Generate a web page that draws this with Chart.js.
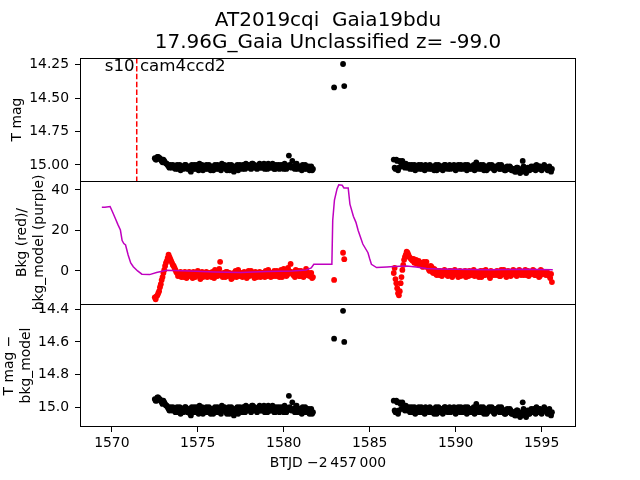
<!DOCTYPE html>
<html><head><meta charset="utf-8">
<script src="https://cdn.jsdelivr.net/npm/chart.js@4"></script>
<style>html,body{margin:0;padding:0;background:#fff}</style>
</head><body>
<canvas id="c" width="640" height="480"></canvas>
<script>
// ---------- text ----------
const titleLines = ['AT2019cqi  Gaia19bdu', '17.96G_Gaia Unclassified z= -99.0'];
const ccdLabel = 's10 cam4ccd2';
const xLabel = 'BTJD \u22122\u2009457\u2009000';
const yTopLabel = 'T mag';
const yMidLabel = ['Bkg (red)/', 'bkg_model (purple)'];
const yBotLabel = ['T mag \u2212', 'bkg_model'];

// ---------- axes ----------
const xRange = [1568.15, 1597.0];
const xTicks = [1570, 1575, 1580, 1585, 1590, 1595];
const yTopRange = [14.20, 15.12];
const yTopTicks = [14.25, 14.50, 14.75, 15.00];
const yMidRange = [-16.3, 44.4];
const yMidTicks = [0, 20, 40];
const yBotRange = [14.368, 15.121];
const yBotTicks = [14.4, 14.6, 14.8, 15.0];

// ---------- data ----------
const vlineX = 1571.45;

// orbit 1, cadence a
const time1 = [1572.5,1572.6,1572.7,1572.8,1572.9,1573.0,1573.1,1573.2,1573.3,1573.4,
1573.5,1573.6,1573.7,1573.8,1573.9,1574.0,1574.1,1574.2,1574.3,1574.4,
1574.5,1574.6,1574.7,1574.8,1574.9,1575.0,1575.1,1575.2,1575.3,1575.4,
1575.5,1575.6,1575.7,1575.8,1575.9,1576.0,1576.1,1576.2,1576.3,1576.4,
1576.5,1576.6,1576.7,1576.8,1576.9,1577.0,1577.1,1577.2,1577.3,1577.4,
1577.5,1577.6,1577.7,1577.8,1577.9,1578.0,1578.1,1578.2,1578.3,1578.4,
1578.5,1578.6,1578.7,1578.8,1578.9,1579.0,1579.1,1579.2,1579.3,1579.4,
1579.5,1579.6,1579.7,1579.8,1579.9,1580.0,1580.1,1580.2,1580.3,1580.4,
1580.5,1580.6,1580.7,1580.8,1580.9,1581.0,1581.1,1581.2,1581.3,1581.4,
1581.5,1581.6,1581.7];
const mag1 = [14.95,14.96,14.94,14.95,14.97,14.96,14.98,14.99,15.01,15.00,
15.02,15.01,15.03,15.00,15.02,15.04,15.01,15.02,15.00,15.03,
15.02,15.05,15.01,15.00,15.03,15.02,14.99,15.02,15.04,15.01,
15.00,15.03,15.02,15.01,15.04,15.00,15.02,15.03,15.01,14.99,
15.02,15.01,15.04,15.00,15.03,15.02,15.05,15.01,15.00,15.02,
15.01,15.03,15.00,14.99,15.02,15.01,15.03,14.99,15.00,15.02,
15.01,14.99,15.02,15.00,15.03,15.01,14.99,15.02,15.01,15.00,
15.03,15.01,15.00,15.02,15.01,15.03,15.00,15.02,14.93,15.01,
14.97,15.02,15.00,15.03,15.01,15.02,15.00,15.03,15.01,15.02,
15.04,15.01,15.03];
const bkg1 = [-13,-12.5,-11,-8,-4.5,-1,2.5,5,8,6,
4,2.5,0.5,-1,-2,-0.5,-1.5,-3,-1,-2.5,
-0.5,-2,-3.5,-1,-2,0,-2.5,-1,-3,-1.5,
-0.5,-2.5,-1,-3,-1.5,0.5,-2,-1,4.5,-2,
-1,-3,-0.5,-2,-1.5,-3.5,-1,0,-2,-2.5,
-1,-3,-0.5,-2,-1.5,-2.5,0,-1.5,-3.5,-1,
-2,-0.5,-2.5,-1,-3,-1.5,0.5,-2,-1,-2.5,
-1,0,-2,-1.5,-3,1,-1,-2,0,3.5,
-1,-2,0.5,-1.5,-2.5,0,-1,-2,1,-1.5,
-2.5,-1,-3];

// orbit 1, cadence b
const time1b = [1572.55,1572.65,1572.75,1572.85,1572.95,1573.05,1573.15,1573.25,1573.35,1573.45,
1573.55,1573.65,1573.75,1573.85,1573.95,1574.05,1574.15,1574.25,1574.35,1574.45,
1574.55,1574.65,1574.75,1574.85,1574.95,1575.05,1575.15,1575.25,1575.35,1575.45,
1575.55,1575.65,1575.75,1575.85,1575.95,1576.05,1576.15,1576.25,1576.35,1576.45,
1576.55,1576.65,1576.75,1576.85,1576.95,1577.05,1577.15,1577.25,1577.35,1577.45,
1577.55,1577.65,1577.75,1577.85,1577.95,1578.05,1578.15,1578.25,1578.35,1578.45,
1578.55,1578.65,1578.75,1578.85,1578.95,1579.05,1579.15,1579.25,1579.35,1579.45,
1579.55,1579.65,1579.75,1579.85,1579.95,1580.05,1580.15,1580.25,1580.35,1580.45,
1580.55,1580.65,1580.75,1580.85,1580.95,1581.05,1581.15,1581.25,1581.35,1581.45,
1581.55,1581.65];
const mag1b = [14.96,14.94,14.95,14.96,14.98,14.97,14.99,15.00,15.02,15.01,
15.00,15.02,15.01,15.03,15.00,15.02,15.03,15.00,15.02,15.01,
15.04,15.00,15.03,15.02,15.00,15.04,15.01,15.00,15.02,15.03,
15.02,15.00,15.04,15.02,15.01,15.03,15.00,15.02,15.04,15.01,
15.00,15.03,15.01,15.04,15.00,15.01,15.03,15.02,15.04,15.00,
15.02,15.00,15.03,15.01,15.00,15.02,14.99,15.02,15.01,15.03,
15.00,15.02,15.01,14.99,15.01,15.03,15.00,15.02,14.99,15.03,
15.00,15.02,15.03,15.00,15.02,14.99,15.03,15.01,15.00,15.02,
15.01,15.03,14.99,15.01,15.02,15.04,15.01,15.00,15.03,15.01,
15.02,15.04];
const bkg1b = [-14,-12,-10,-6.5,-3,0.5,4,6.5,7,5,
3,1.5,-0.5,-2.5,-1,-3,-2,-0.5,-3.5,-1.5,
-2.5,-1,-0.5,-3,-1.5,-2,-4,-0.5,-2,-1,
-3,-1.5,-2,-0.5,-3.5,-1,-2.5,1,-1.5,-3,
-2,-0.5,-2.5,-1,-4,-1.5,-2,-3,0.5,-1.5,
-2.5,-1,-2,-3.5,0,-2,-1,-2.5,-0.5,-3,
-1.5,-3,-1,-2,0,-2.5,-1.5,-3,-2,0,
-2.5,-1.5,-3,0.5,-2,-1,-2.5,1.5,-1,-0.5,
-2,-3,-1,0,-2.5,-1.5,-3,-0.5,-2,-1,
-2,-3.5];

// orbit 2, cadence a
const time2 = [1586.4,1586.5,1586.6,1586.7,1586.8,1586.9,1587.0,1587.1,1587.2,1587.3,
1587.4,1587.5,1587.6,1587.7,1587.8,1587.9,1588.0,1588.1,1588.2,1588.3,
1588.4,1588.5,1588.6,1588.7,1588.8,1588.9,1589.0,1589.1,1589.2,1589.3,
1589.4,1589.5,1589.6,1589.7,1589.8,1589.9,1590.0,1590.1,1590.2,1590.3,
1590.4,1590.5,1590.6,1590.7,1590.8,1590.9,1591.0,1591.1,1591.2,1591.3,
1591.4,1591.5,1591.6,1591.7,1591.8,1591.9,1592.0,1592.1,1592.2,1592.3,
1592.4,1592.5,1592.6,1592.7,1592.8,1592.9,1593.0,1593.1,1593.2,1593.3,
1593.4,1593.5,1593.6,1593.7,1593.8,1593.9,1594.0,1594.1,1594.2,1594.3,
1594.4,1594.5,1594.6,1594.7,1594.8,1594.9,1595.0,1595.1,1595.2,1595.3,
1595.4,1595.5,1595.6];
const mag2 = [14.96,15.03,14.97,15.02,14.98,14.97,15.01,14.99,15.02,15.00,
15.01,15.03,15.00,15.02,15.01,15.03,15.00,15.02,15.04,15.01,
15.02,15.00,15.03,15.01,15.02,15.04,15.00,15.02,15.01,15.03,
15.00,15.02,15.01,15.03,15.02,15.00,15.04,15.01,15.02,15.00,
15.03,15.01,15.02,15.00,15.03,15.02,15.01,15.04,14.98,15.02,
15.01,15.03,15.00,15.02,15.04,15.01,15.02,15.00,15.03,15.01,
15.02,15.00,15.03,15.01,15.02,15.04,15.01,15.03,15.02,15.04,
15.03,15.05,15.02,15.04,15.05,14.97,15.03,15.06,15.02,15.04,
15.01,15.03,15.02,15.00,15.03,15.01,15.04,15.02,15.01,15.03,
15.02,15.04,15.03];
const bkg2 = [-1,-4,-8.5,-12,-6,0.5,5.5,8,9,7,
6,5,4,5.5,4.5,3,4,2,3.5,4.5,
1.5,0,2,-1,0.5,-2,-1,0,-2.5,-1,
-0.5,-2,-1.5,0,-3,-1,-0.5,-2,-1,-2.5,
-0.5,-1.5,-3,-1,0,-2,-1,-2.5,-0.5,-1.5,
-1,-3,0,-2,-1,-1.5,-3.5,-0.5,-2,-1,
0,-1.5,-2.5,-1,0.5,-2,-1,-0.5,-2.5,-1,
0,-1.5,-1,0.5,-2,-1,-0.5,-2,0,-1.5,
-1,0.5,-2,-1,-0.5,-2.5,0,-1,-1.5,-0.5,
-2,-3.5,-5.5];

// orbit 2, cadence b
const time2b = [1586.45,1586.55,1586.65,1586.75,1586.85,1586.95,1587.05,1587.15,1587.25,1587.35,
1587.45,1587.55,1587.65,1587.75,1587.85,1587.95,1588.05,1588.15,1588.25,1588.35,
1588.45,1588.55,1588.65,1588.75,1588.85,1588.95,1589.05,1589.15,1589.25,1589.35,
1589.45,1589.55,1589.65,1589.75,1589.85,1589.95,1590.05,1590.15,1590.25,1590.35,
1590.45,1590.55,1590.65,1590.75,1590.85,1590.95,1591.05,1591.15,1591.25,1591.35,
1591.45,1591.55,1591.65,1591.75,1591.85,1591.95,1592.05,1592.15,1592.25,1592.35,
1592.45,1592.55,1592.65,1592.75,1592.85,1592.95,1593.05,1593.15,1593.25,1593.35,
1593.45,1593.55,1593.65,1593.75,1593.85,1593.95,1594.05,1594.15,1594.25,1594.35,
1594.45,1594.55,1594.65,1594.75,1594.85,1594.95,1595.05,1595.15,1595.25,1595.35,
1595.45,1595.55];
const mag2b = [15.02,14.96,15.04,14.97,15.01,14.99,15.02,15.00,15.01,15.03,
15.00,15.02,15.04,15.01,15.00,15.02,15.03,15.01,15.00,15.02,
15.03,15.01,15.02,15.04,15.00,15.02,15.03,15.01,15.04,15.00,
15.02,15.03,15.00,15.02,15.01,15.03,15.02,15.00,15.03,15.01,
15.02,15.00,15.04,15.02,15.01,15.03,15.00,15.02,15.01,15.03,
15.00,15.02,15.04,15.01,15.03,15.00,15.02,15.01,15.04,15.02,
15.01,15.03,15.00,15.02,15.04,15.02,15.03,15.01,15.04,15.03,
15.05,15.02,15.04,15.06,15.03,15.01,15.05,15.03,15.04,15.02,
15.03,15.01,15.04,15.02,15.01,15.03,15.02,15.00,15.02,15.04,
15.01,15.05];
const bkg2b = [1.5,-6,-11,-10,-3,3,7,9.5,8,6.5,
5.5,6,4.5,3.5,5,4,2.5,4.5,3,2,
0.5,2.5,-0.5,1,-1.5,0,-2,-0.5,-1.5,0.5,
-1.5,-2.5,0,-1,-2,0.5,-1.5,-3,0,-1,
-2,0,-1,-2.5,-0.5,-1.5,0.5,-2,-1,-3,
0,-1.5,-2,0.5,-1,-2.5,0,-1.5,-0.5,-2,
-1,-2.5,0.5,-1.5,-1,-3,0,-1.5,-2,0.5,
-1,-2.5,0,-1.5,-0.5,-2,0.5,-1,-2.5,-0.5,
-1.5,0,-2,-1,-3,0.5,-1.5,-0.5,-2,-1,
-2.5,-1.5];

// isolated points between the two orbits
const outT = [1582.93, 1583.45, 1583.52];
const outMag = [14.42, 14.245, 14.41];
const outBkg = [-4.4, 9.0, 5.8];
const outMagSub = [14.58, 14.41, 14.60];

// background model (purple)
const modelT = [1569.42,1569.6,1569.9,1570.05,1570.2,1570.35,1570.5,1570.6,1570.7,1570.8,
1570.95,1571.1,1571.25,1571.5,1571.75,1572.2,1572.6,1573.2,1574.5,1576.0,
1577.5,1579.0,1580.5,1581.3,1581.6,1581.75,1582.8,1582.85,1582.95,1583.1,
1583.2,1583.4,1583.5,1583.75,1583.85,1584.05,1584.2,1584.33,1584.6,1584.9,
1585.0,1585.1,1585.4,1586.0,1586.4,1587.15,1587.7,1588.3,1589.0,1590.0,
1592.0,1594.0,1595.65];
const modelBkg = [31.5,31.5,31.8,29,26,23,20.2,15,13.5,12.8,
7.9,4,2.1,0,-1.6,-1.8,-0.8,0.3,0,-0.5,
-0.8,-0.3,0,0.5,1.5,3.3,3.3,25,35,40.5,
42.5,42.3,41,41,33,27,24,20,13.3,9,
6,3.3,1.7,2,2.2,2.5,2,1.2,1,0.8,
0.6,0.8,0.6];

// ---------- rendering ----------
const FONT = 'DejaVu Sans';
const pts = (xs, ys) => xs.map((x, i) => ({x: x, y: ys[i]}));
const tickFont = {family: FONT, size: 13.9};
const dot = (data, color, axis) => ({data: data, yAxisID: axis, backgroundColor: color, borderWidth: 0, pointRadius: 2.9, showLine: false, order: 2});

const yScale = (range, ticks, dec, title, pad, wt) => ({
  type: 'linear', position: 'left', stack: 'panels', stackWeight: 1, weight: wt,
  min: range[0], max: range[1],
  afterFit: s => { s.width = 80; },
  afterBuildTicks: s => { s.ticks = ticks.map(v => ({value: v})); },
  ticks: {callback: v => Number(v).toFixed(dec), font: tickFont, color: '#000', padding: 6},
  grid: {drawOnChartArea: false, tickLength: 5, color: '#000', lineWidth: 1},
  border: {display: false},
  title: {display: true, text: title, color: '#000', font: {family: FONT, size: 13.9, lineHeight: 1.2}, padding: {top: pad, bottom: 0}}
});

const framePlugin = {
  id: 'frames',
  afterDatasetsDraw(chart) {
    const ctx = chart.ctx, a = chart.chartArea;
    ctx.save();
    ctx.strokeStyle = '#000';
    ctx.lineWidth = 1;
    const l = Math.round(a.left) + 0.5, r = Math.round(a.right) - 0.5;
    const t = Math.round(a.top) + 0.5, b = Math.round(a.bottom) - 0.5;
    ctx.strokeRect(l, t, r - l, b - t);
    ['yMid', 'yBot'].forEach(id => {
      const y = Math.round(chart.scales[id].top) + 0.5;
      ctx.beginPath(); ctx.moveTo(l, y); ctx.lineTo(r, y); ctx.stroke();
    });
    const st = chart.scales.yTop;
    ctx.fillStyle = '#000';
    ctx.font = '16.67px "' + FONT + '"';
    ctx.textBaseline = 'alphabetic';
    ctx.textAlign = 'left';
    ctx.fillText(ccdLabel, a.left + 0.05 * (a.right - a.left), st.top + 13);
    ctx.restore();
  }
};

const yTop = yScale(yTopRange, yTopTicks, 2, yTopLabel, 9.3, 3);
yTop.reverse = true;
const yMid = yScale(yMidRange, yMidTicks, 0, yMidLabel, 14.3, 2);
const yBot = yScale(yBotRange, yBotTicks, 1, yBotLabel, 1.3, 1);
yBot.reverse = true;

new Chart(document.getElementById('c'), {
  type: 'scatter',
  data: {datasets: [
    {data: [{x: vlineX, y: yTopRange[0]}, {x: vlineX, y: yTopRange[1]}], yAxisID: 'yTop', showLine: true,
     borderColor: '#ff0000', borderWidth: 1.5, borderDash: [5.5, 2.4], pointRadius: 0, order: 1},
    dot(pts(time1, mag1), '#000000', 'yTop'),
    dot(pts(time1b, mag1b), '#000000', 'yTop'),
    dot(pts(time2, mag2), '#000000', 'yTop'),
    dot(pts(time2b, mag2b), '#000000', 'yTop'),
    dot(pts(outT, outMag), '#000000', 'yTop'),
    {data: pts(modelT, modelBkg), yAxisID: 'yMid', showLine: true, borderColor: '#bf00bf', borderWidth: 1.5,
     pointRadius: 0, tension: 0, order: 0},
    dot(pts(time1, bkg1), '#ff0000', 'yMid'),
    dot(pts(time1b, bkg1b), '#ff0000', 'yMid'),
    dot(pts(time2, bkg2), '#ff0000', 'yMid'),
    dot(pts(time2b, bkg2b), '#ff0000', 'yMid'),
    dot(pts(outT, outBkg), '#ff0000', 'yMid'),
    dot(pts(time1, mag1), '#000000', 'yBot'),
    dot(pts(time1b, mag1b), '#000000', 'yBot'),
    dot(pts(time2, mag2), '#000000', 'yBot'),
    dot(pts(time2b, mag2b), '#000000', 'yBot'),
    dot(pts(outT, outMagSub), '#000000', 'yBot')
  ]},
  options: {
    responsive: false, animation: false, devicePixelRatio: 1,
    layout: {padding: {left: 0, right: 64, top: 0, bottom: 0}},
    plugins: {
      legend: {display: false}, tooltip: {enabled: false},
      title: {display: true, text: titleLines, fullSize: false, color: '#000',
        font: {family: FONT, size: 20, weight: 'normal', lineHeight: 1.08}, padding: {top: 10.2, bottom: 4.6}}
    },
    scales: {
      x: {type: 'linear', position: 'bottom', min: xRange[0], max: xRange[1],
        afterFit: s => { s.height = 53; },
        afterBuildTicks: s => { s.ticks = xTicks.map(v => ({value: v})); },
        ticks: {callback: v => String(v), font: tickFont, color: '#000', padding: 3, maxRotation: 0, autoSkip: false},
        grid: {drawOnChartArea: false, tickLength: 5, color: '#000', lineWidth: 1},
        border: {display: false},
        title: {display: true, text: xLabel, color: '#000', font: {family: FONT, size: 13.9, lineHeight: 1.2}, padding: {top: 4, bottom: 8.7}}
      },
      yTop: yTop, yMid: yMid, yBot: yBot
    }
  },
  plugins: [framePlugin]
});
</script>
</body></html>
